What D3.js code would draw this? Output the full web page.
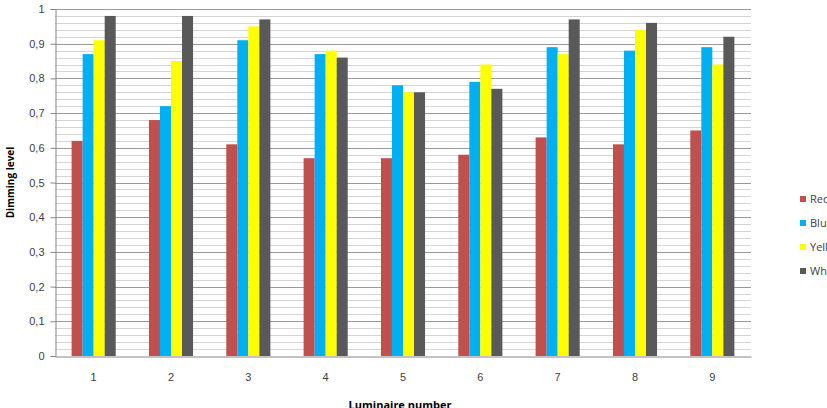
<!DOCTYPE html>
<html>
<head>
<meta charset="utf-8">
<script src="https://cdn.jsdelivr.net/npm/d3@7"></script>
<style>
  body { margin: 0; background: #fff; }
  svg { display: block; font-family: 'Open Sans', 'DejaVu Sans', sans-serif; }
</style>
</head>
<body>
<svg id="chart" width="827" height="408"></svg>
<script>
// luminaire numbers on the x axis
const luminaires = ['1', '2', '3', '4', '5', '6', '7', '8', '9']
const seriesNames = ['Red', 'Blue', 'Yellow', 'White']
const seriesColors = ['#c0504d', '#00b0f0', '#ffff00', '#595959']

// dimming level per luminaire, one array per colour
const red = [0.62, 0.68, 0.61, 0.57, 0.57, 0.58, 0.63, 0.61, 0.65]
const blue = [0.87, 0.72, 0.91, 0.87, 0.78, 0.79, 0.89, 0.88, 0.89]
const yellow = [0.91, 0.85, 0.95, 0.88, 0.76, 0.84, 0.87, 0.94, 0.84]
const white = [0.98, 0.98, 0.97, 0.86, 0.76, 0.77, 0.97, 0.96, 0.92]

const yTicks = [0, 0.1, 0.2, 0.3, 0.4, 0.5, 0.6, 0.7, 0.8, 0.9, 1]

const series = [red, blue, yellow, white]
const margin = { left: 55, right: 76, top: 9, bottom: 52 }
const width = 827, height = 408

const svg = d3.select('#chart')

const x = d3.scaleBand().domain(luminaires)
  .range([margin.left, width - margin.right])
  .paddingInner(0.43).paddingOuter(0.215)
const xs = d3.scaleBand().domain(seriesNames).range([0, x.bandwidth()])
const y = d3.scaleLinear().domain([0, 1]).range([height - margin.bottom, margin.top])

// gridlines: light every 0.02, darker every 0.1
const minor = d3.range(0, 51).map(i => i / 50).filter((v, i) => i % 5 !== 0)
svg.append('g').selectAll('line').data(minor).enter().append('line')
  .attr('x1', margin.left).attr('x2', width - margin.right)
  .attr('y1', v => Math.round(y(v)) + 0.5).attr('y2', v => Math.round(y(v)) + 0.5)
  .attr('stroke', '#d4d4d4')
svg.append('g').selectAll('line').data(yTicks.slice(1)).enter().append('line')
  .attr('x1', margin.left).attr('x2', width - margin.right)
  .attr('y1', v => Math.round(y(v)) + 0.5).attr('y2', v => Math.round(y(v)) + 0.5)
  .attr('stroke', '#9a9a9a')

// bars
const groups = svg.append('g').selectAll('g').data(luminaires).enter().append('g')
  .attr('transform', d => `translate(${x(d)},0)`)
groups.selectAll('rect')
  .data((d, i) => series.map((s, j) => ({ name: seriesNames[j], value: s[i], color: seriesColors[j] })))
  .enter().append('rect')
  .attr('x', d => xs(d.name))
  .attr('width', xs.bandwidth())
  .attr('y', d => y(d.value))
  .attr('height', d => y(0) - y(d.value))
  .attr('fill', d => d.color)

// axes
const fmt = v => String(v).replace('.', ',')
const yAxis = svg.append('g').attr('transform', `translate(${margin.left + 0.5},0)`)
  .call(d3.axisLeft(y).tickValues(yTicks).tickFormat(fmt).tickSize(5).tickPadding(6))
yAxis.select('.domain').attr('stroke', '#868686')
yAxis.selectAll('.tick line').attr('stroke', '#868686')
yAxis.selectAll('.tick text').attr('fill', '#404040').style('font-size', '11px')

const xAxis = svg.append('g').attr('transform', `translate(0,${Math.round(y(0)) + 0.5})`)
  .call(d3.axisBottom(x).tickSize(0).tickPadding(17))
xAxis.select('.domain').attr('stroke', '#868686')
xAxis.selectAll('.tick text').attr('fill', '#404040').style('font-size', '11px')

// axis titles
svg.append('text')
  .attr('transform', `translate(14,${(margin.top + height - margin.bottom) / 2}) rotate(-90)`)
  .attr('text-anchor', 'middle')
  .style('font-size', '10px').style('font-weight', 'bold').attr('fill', '#000')
  .text('Dimming level')
svg.append('text')
  .attr('x', 400).attr('y', 409)
  .attr('text-anchor', 'middle')
  .style('font-size', '11px').style('font-weight', 'bold').attr('fill', '#000')
  .text('Luminaire number')

// legend (runs past the right edge like the original)
const legend = svg.append('g').selectAll('g').data(seriesNames).enter().append('g')
  .attr('transform', (d, i) => `translate(800,${199 + i * 24})`)
legend.append('rect').attr('x', 0).attr('y', -3).attr('width', 6).attr('height', 6)
  .attr('fill', (d, i) => seriesColors[i])
legend.append('text').attr('x', 10).attr('y', 4)
  .style('font-size', '11px').attr('fill', '#404040')
  .text(d => d)
</script>
</body>
</html>
